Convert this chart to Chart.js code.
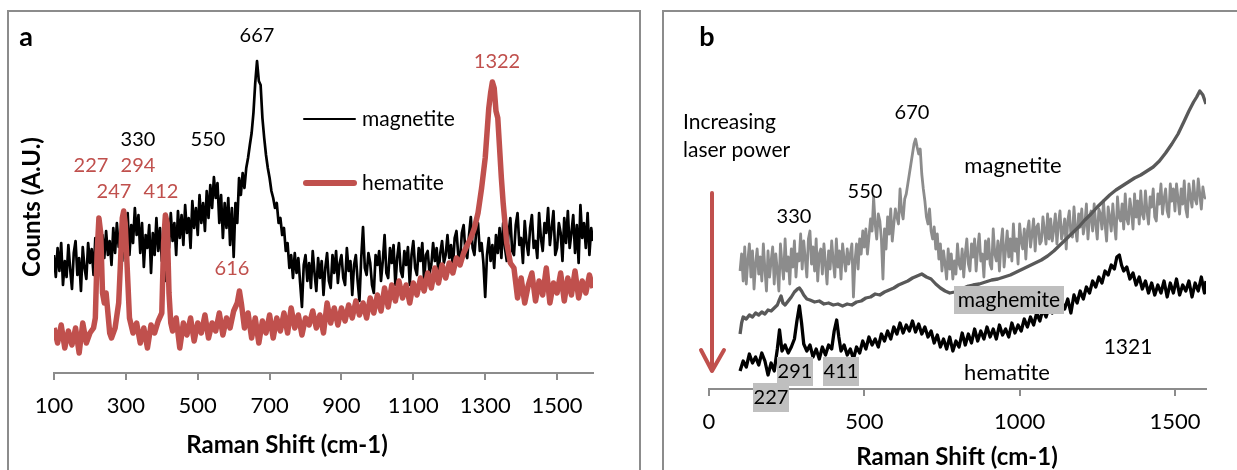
<!DOCTYPE html>
<html lang="en">
<head>
<meta charset="UTF-8">
<title>Raman spectra - magnetite / hematite</title>
<script src="https://cdn.jsdelivr.net/npm/chart.js"></script>
<style>
  body {
    margin: 0;
    background: #fff;
    width: 1237px;
    height: 470px;
    overflow: hidden;
    position: relative;
    font-family: Lato, sans-serif;
  }
  .frame {
    position: absolute;
    border: 2px solid #8c8c8c;
    box-sizing: border-box;
  }
  #frameA { left: 7px; top: 10px; width: 634px; height: 490px; }
  #frameB { left: 662px; top: 10px; width: 600px; height: 490px; }
  canvas { position: absolute; top: 0; }
  #chartA { left: 0; }
  #chartB { left: 640px; }
</style>
</head>
<body>
<div class="frame" id="frameA"></div>
<div class="frame" id="frameB"></div>
<canvas id="chartA" width="640" height="470"></canvas>
<canvas id="chartB" width="597" height="470"></canvas>

<script>
// raman shift grid (cm-1), 5 cm-1 steps, used by the noisy spectra
const shift5 = [100,105,110,115,120,125,130,135,140,145,150,155,160,165,170,175,180,185,190,195,
  200,205,210,215,220,225,230,235,240,245,250,255,260,265,270,275,280,285,290,295,
  300,305,310,315,320,325,330,335,340,345,350,355,360,365,370,375,380,385,390,395,
  400,405,410,415,420,425,430,435,440,445,450,455,460,465,470,475,480,485,490,495,
  500,505,510,515,520,525,530,535,540,545,550,555,560,565,570,575,580,585,590,595,
  600,605,610,615,620,625,630,635,640,645,650,655,660,665,670,675,680,685,690,695,
  700,705,710,715,720,725,730,735,740,745,750,755,760,765,770,775,780,785,790,795,
  800,805,810,815,820,825,830,835,840,845,850,855,860,865,870,875,880,885,890,895,
  900,905,910,915,920,925,930,935,940,945,950,955,960,965,970,975,980,985,990,995,
  1000,1005,1010,1015,1020,1025,1030,1035,1040,1045,1050,1055,1060,1065,1070,1075,1080,1085,1090,1095,
  1100,1105,1110,1115,1120,1125,1130,1135,1140,1145,1150,1155,1160,1165,1170,1175,1180,1185,1190,1195,
  1200,1205,1210,1215,1220,1225,1230,1235,1240,1245,1250,1255,1260,1265,1270,1275,1280,1285,1290,1295,
  1300,1305,1310,1315,1320,1325,1330,1335,1340,1345,1350,1355,1360,1365,1370,1375,1380,1385,1390,1395,
  1400,1405,1410,1415,1420,1425,1430,1435,1440,1445,1450,1455,1460,1465,1470,1475,1480,1485,1490,1495,
  1500,1505,1510,1515,1520,1525,1530,1535,1540,1545,1550,1555,1560,1565,1570,1575,1580,1585,1590,1595,
  1600];

// ---- panel a: magnetite (black) ----
const magA_counts = [118,96,125,102,130,88,112,96,128,104,84,120,132,98,115,82,126,105,94,130,
  110,124,98,135,112,128,100,138,115,142,118,132,108,145,120,150,126,138,112,155,
  128,160,118,148,130,165,138,158,120,150,106,138,125,148,100,140,118,155,122,145,
  112,140,92,150,125,160,132,150,118,162,135,158,128,168,140,155,125,172,145,165,
  138,178,150,170,142,182,155,188,165,196,175,190,150,178,135,170,145,175,128,165,
  116,170,150,195,178,200,185,205,215,228,240,260,290,312,292,288,255,235,218,205,
  195,182,175,165,170,150,155,138,145,122,130,105,118,95,120,100,115,90,66,108,
  118,92,110,85,122,100,82,115,95,112,78,105,120,92,85,118,100,122,90,110,
  118,95,88,125,102,112,78,108,118,92,72,115,146,105,98,120,110,88,80,118,
  108,122,92,112,138,100,95,125,110,128,88,115,130,102,96,122,108,126,88,118,
  132,105,98,125,112,130,92,118,122,100,108,130,112,125,98,120,132,110,118,138,
  115,128,105,135,142,118,112,140,148,120,115,138,156,125,118,142,150,122,130,110,
  76,118,135,112,128,105,138,120,145,115,150,125,112,140,155,122,118,148,160,128,
  135,110,152,130,118,145,158,125,132,115,160,135,122,150,140,165,128,145,162,118,
  125,150,140,112,155,130,162,125,140,158,120,148,110,168,135,150,125,160,118,145,
  132];

// ---- panel a: hematite (red) ----
const hemA_shift = [100,110,120,130,140,150,160,170,180,190,200,210,215,220,225,230,235,240,245,250,255,260,270,280,285,290,294,298,305,310,320,330,340,350,360,370,380,390,400,405,410,415,420,425,430,440,450,460,470,480,490,500,510,520,530,540,550,560,570,580,590,600,610,616,622,630,640,650,660,670,680,690,700,710,720,730,740,750,760,770,780,790,800,810,820,830,840,850,860,870,880,890,900,910,920,930,940,950,960,970,980,990,1000,1010,1020,1030,1040,1050,1060,1070,1080,1090,1100,1110,1120,1130,1140,1150,1160,1170,1180,1190,1200,1210,1220,1230,1240,1250,1260,1270,1280,1290,1300,1305,1310,1315,1320,1325,1330,1335,1340,1345,1350,1355,1360,1370,1380,1390,1400,1410,1420,1430,1440,1450,1460,1470,1480,1490,1500,1510,1520,1530,1540,1550,1560,1570,1580,1590,1600];
const hemA_counts = [45,30,48,25,42,28,45,20,50,30,40,45,55,120,155,140,80,70,80,60,40,35,45,70,110,155,162,150,95,55,40,50,30,45,25,48,40,52,60,130,158,150,80,50,42,55,25,50,38,55,32,50,40,58,35,50,42,60,38,55,45,62,70,82,68,45,60,35,55,30,52,40,58,35,55,42,60,40,65,45,58,38,55,48,62,45,58,40,70,50,65,48,65,52,68,55,72,58,70,55,75,60,78,62,85,66,88,72,92,75,88,70,90,78,95,82,100,85,105,90,108,95,110,100,115,108,120,128,135,145,160,185,215,240,265,280,291,285,262,255,225,195,170,150,130,110,105,75,95,70,88,100,72,92,78,105,70,90,80,100,72,95,78,102,75,92,80,98,85];

const ticksA = [100,300,500,700,900,1100,1300,1500];

// ---- panel b: magnetite (light grey), on shift5 ----
const magB_counts = [118,135,108,142,105,128,145,112,138,100,125,140,115,132,108,145,120,98,138,112,
  128,142,105,135,118,98,145,125,110,150,118,132,105,140,122,148,112,135,128,155,
  120,148,130,112,150,158,125,142,118,150,108,135,140,115,145,125,105,138,120,148,
  128,112,150,122,138,110,145,130,118,140,125,135,145,92,128,145,120,150,135,158,
  142,160,135,152,170,158,192,165,150,175,168,150,110,160,140,172,155,180,148,165,
  180,172,165,200,178,170,190,195,205,215,225,235,245,250,242,235,240,215,200,188,
  172,165,180,158,150,162,140,155,130,145,118,138,125,110,140,120,135,110,128,115,
  145,125,120,140,112,135,150,125,118,145,132,150,118,140,155,128,135,112,148,130,
  150,125,120,160,135,128,148,118,145,160,122,140,158,132,150,128,165,138,150,125,
  165,148,140,160,130,158,168,142,155,170,138,162,165,145,148,172,158,145,175,150,
  170,148,160,175,145,165,178,150,158,170,140,168,178,155,152,182,160,148,175,162,
  180,155,165,185,150,172,178,158,185,165,150,180,175,160,188,165,148,182,172,158,
  185,165,150,192,172,168,185,160,195,170,165,190,178,160,195,172,188,165,198,175,
  170,198,178,165,192,182,200,172,168,195,185,205,175,190,200,178,172,205,188,200,
  178,205,190,175,200,185,208,180,172,205,192,182,208,190,185,210,195,180,202,192,
  190];

// ---- panel b: maghemite (dark grey) ----
const maghB_shift = [100,105,110,120,130,140,150,160,170,180,190,200,210,220,225,232,238,245,255,265,275,285,291,298,305,315,325,340,355,370,385,400,415,430,445,460,475,490,505,520,535,550,565,580,595,610,625,640,655,670,685,700,715,730,745,760,775,790,805,820,835,850,870,890,910,930,950,970,990,1010,1030,1050,1070,1090,1110,1130,1150,1170,1190,1210,1230,1250,1270,1290,1310,1330,1350,1370,1390,1410,1430,1450,1470,1490,1510,1530,1545,1560,1570,1580,1590,1600];
const maghB_counts = [55,66,72,70,74,72,76,74,77,75,79,78,81,84,88,93,86,84,88,92,97,100,101,98,94,90,89,87,88,85,86,84,85,83,85,84,87,88,91,92,95,94,97,99,101,104,106,108,111,113,115,112,110,105,101,98,96,97,99,101,103,104,105,107,109,110,112,114,117,120,123,126,129,133,138,144,150,156,162,169,175,182,188,194,199,203,207,211,214,218,222,228,236,245,255,268,278,287,292,298,294,285];

// ---- panel b: hematite (black) ----
const hemB_shift = [100,110,120,130,140,150,160,170,180,190,200,210,220,227,235,245,255,265,275,283,291,298,305,315,325,335,345,355,365,375,385,395,403,411,418,425,435,445,455,465,475,485,495,505,515,525,535,545,555,565,575,585,595,605,615,625,635,645,655,665,675,685,695,705,715,725,735,745,755,765,775,785,795,805,815,825,835,845,855,865,875,885,895,905,915,925,935,945,955,965,975,985,995,1005,1015,1025,1035,1045,1055,1065,1075,1085,1095,1105,1115,1125,1135,1145,1155,1165,1175,1185,1195,1205,1215,1225,1235,1245,1255,1265,1275,1285,1295,1305,1313,1321,1328,1335,1345,1355,1365,1375,1385,1395,1405,1415,1425,1435,1445,1455,1465,1475,1485,1495,1505,1515,1525,1535,1545,1555,1565,1575,1585,1595,1600];
const hemB_counts = [18,28,22,35,26,32,24,36,28,14,26,18,40,59,38,44,36,42,50,68,83,66,45,38,44,32,40,30,42,34,44,40,58,69,52,38,44,34,40,30,42,36,48,40,52,44,50,42,55,48,58,50,62,55,66,56,64,58,68,57,65,55,62,52,58,46,54,42,50,40,52,38,48,42,56,44,55,46,60,48,58,50,62,52,60,50,64,54,60,52,66,56,64,58,70,62,72,64,76,68,80,72,82,76,86,78,88,80,90,76,94,86,98,90,102,96,108,102,112,106,118,114,124,120,132,134,124,118,122,110,116,104,112,100,108,96,106,94,104,96,108,92,106,96,110,94,104,98,108,92,106,98,112,96,108];

const ticksB = [0,500,1000,1500];

const RED = '#c0504d';
const AXIS = '#8c8c8c';

function pts(xs, ys) {
  return xs.map((x, i) => ({x: x, y: ys[i]}));
}

function xAxis(min, max, tickVals, height) {
  return {
    type: 'linear',
    min: min,
    max: max,
    afterBuildTicks: s => { s.ticks = tickVals.map(v => ({value: v})); },
    afterFit: s => { s.height = height; },
    grid: { drawOnChartArea: false, drawTicks: true, tickLength: 7, color: AXIS, lineWidth: 2 },
    border: { display: true, color: AXIS, width: 2 },
    ticks: {
      color: '#000',
      font: { family: 'Lato', size: 22 },
      padding: 13,
      maxRotation: 0,
      autoSkip: false,
      callback: v => String(v)
    }
  };
}

// text / box / arrow drawing on top of the chart
function notesPlugin(items) {
  return {
    id: 'notes',
    afterDraw(chart) {
      const ctx = chart.ctx;
      ctx.save();
      items.forEach(n => {
        if (n.box) {
          ctx.fillStyle = '#bfbfbf';
          ctx.fillRect(n.box[0], n.box[1], n.box[2], n.box[3]);
        }
        if (n.line) {
          ctx.strokeStyle = n.color;
          ctx.lineWidth = n.width;
          ctx.lineCap = 'round';
          ctx.lineJoin = 'round';
          ctx.beginPath();
          n.line.forEach((p, i) => i ? ctx.lineTo(p[0], p[1]) : ctx.moveTo(p[0], p[1]));
          ctx.stroke();
        }
        if (n.t) {
          ctx.fillStyle = n.color || '#000';
          ctx.font = (n.bold ? 'bold ' : '') + (n.size || 20) + 'px Lato';
          ctx.textAlign = n.align || 'center';
          ctx.textBaseline = 'middle';
          if (n.rot) {
            ctx.save();
            ctx.translate(n.x, n.y);
            ctx.rotate(n.rot);
            ctx.fillText(n.t, 0, 0);
            ctx.restore();
          } else {
            ctx.fillText(n.t, n.x, n.y);
          }
        }
      });
      ctx.restore();
    }
  };
}

const notesA = [
  {t: 'a', x: 26, y: 37, bold: true, size: 27},
  {t: '667', x: 257, y: 36},
  {t: '1322', x: 497, y: 62, color: RED},
  {t: '330', x: 138, y: 140},
  {t: '550', x: 208, y: 140},
  {t: '227', x: 91, y: 166, color: RED},
  {t: '294', x: 138, y: 166, color: RED},
  {t: '247', x: 114, y: 192, color: RED},
  {t: '412', x: 161, y: 192, color: RED},
  {t: '616', x: 232, y: 269, color: RED},
  {line: [[304, 119], [355, 119]], color: '#000', width: 2},
  {t: 'magnetite', x: 362, y: 119, align: 'left', size: 21},
  {line: [[306, 183], [354, 183]], color: RED, width: 6},
  {t: 'hematite', x: 362, y: 183, align: 'left', size: 21},
  {t: 'Raman Shift (cm-1)', x: 287, y: 445, bold: true, size: 24},
  {t: 'Counts (A.U.)', x: 32, y: 207, bold: true, size: 24, rot: -Math.PI / 2}
];

const notesB = [
  {t: 'b', x: 67, y: 37, bold: true, size: 27},
  {t: 'Increasing', x: 43, y: 122, align: 'left', size: 21},
  {t: 'laser power', x: 43, y: 150, align: 'left', size: 21},
  {line: [[72, 193], [72, 370]], color: RED, width: 4},
  {line: [[61, 350], [72, 371], [84, 350]], color: RED, width: 4},
  {t: '670', x: 272, y: 113},
  {t: '550', x: 225, y: 192},
  {t: '330', x: 154, y: 217},
  {t: 'magnetite', x: 373, y: 166, size: 22},
  {box: [314, 286, 110, 28], t: 'maghemite', x: 369, y: 300, size: 21},
  {t: '1321', x: 488, y: 347, size: 21},
  {t: 'hematite', x: 367, y: 373, size: 22},
  {box: [137, 357, 36, 29], t: '291', x: 155, y: 372},
  {box: [183, 357, 36, 29], t: '411', x: 201, y: 372},
  {box: [113, 383, 36, 29], t: '227', x: 131, y: 398},
  {t: 'Raman Shift (cm-1)', x: 317, y: 457, bold: true, size: 24}
];

const baseOpts = {
  responsive: false,
  animation: false,
  events: [],
  plugins: { legend: { display: false }, tooltip: { enabled: false } },
  elements: { point: { radius: 0 }, line: { tension: 0, borderJoinStyle: 'round' } }
};

new Chart(document.getElementById('chartA'), {
  type: 'line',
  data: {
    datasets: [
      { label: 'hematite', data: pts(hemA_shift, hemA_counts), borderColor: RED, borderWidth: 5.5 },
      { label: 'magnetite', data: pts(shift5, magA_counts), borderColor: '#000', borderWidth: 2.7 }
    ]
  },
  options: Object.assign({}, baseOpts, {
    layout: { padding: { left: 54, right: 47, top: 23, bottom: 0 } },
    scales: {
      x: xAxis(100, 1600, ticksA, 97),
      y: { display: false, min: 0, max: 350 }
    }
  }),
  plugins: [notesPlugin(notesA)]
});

new Chart(document.getElementById('chartB'), {
  type: 'line',
  data: {
    datasets: [
      { label: 'hematite', data: pts(hemB_shift, hemB_counts), borderColor: '#000', borderWidth: 3.3 },
      { label: 'maghemite', data: pts(maghB_shift, maghB_counts), borderColor: '#595959', borderWidth: 3.3 },
      { label: 'magnetite', data: pts(shift5, magB_counts), borderColor: '#8c8c8c', borderWidth: 2.8 }
    ]
  },
  options: Object.assign({}, baseOpts, {
    layout: { padding: { left: 69, right: 31, top: 19, bottom: 0 } },
    scales: {
      x: xAxis(0, 1600, ticksB, 81),
      y: { display: false, min: 0, max: 370 }
    }
  }),
  plugins: [notesPlugin(notesB)]
});
</script>
</body>
</html>
